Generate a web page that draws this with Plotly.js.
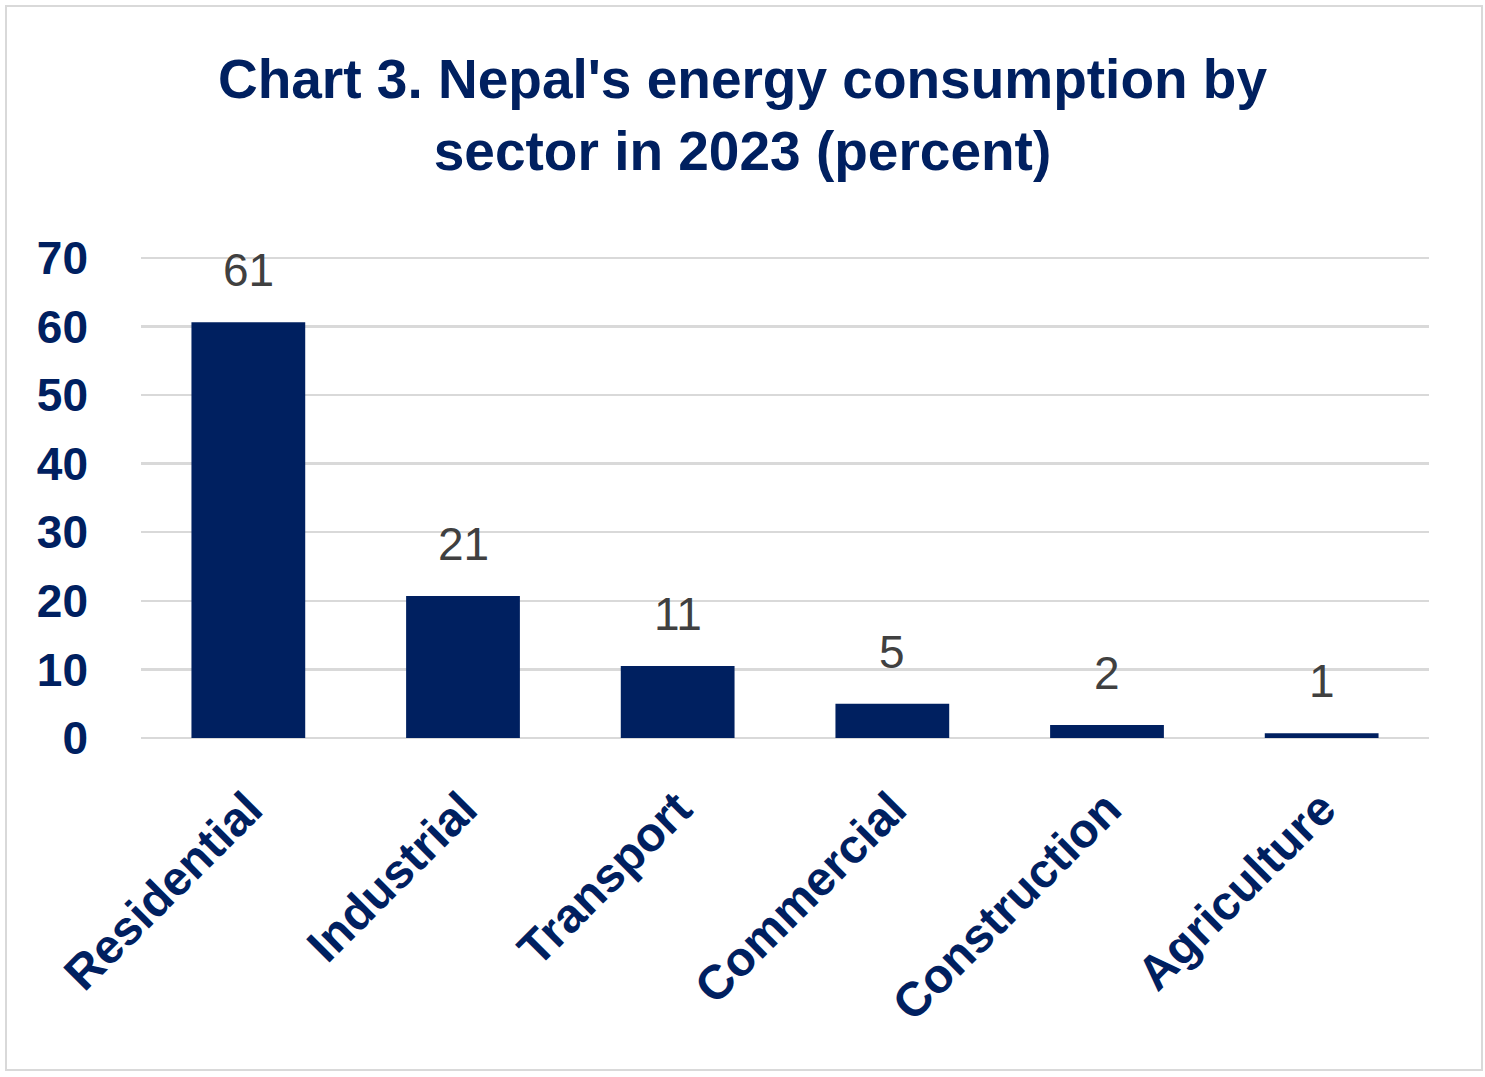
<!DOCTYPE html>
<html>
<head>
<meta charset="utf-8">
<script src="https://cdn.plot.ly/plotly-3.0.1.min.js"></script>
<style>
html,body{margin:0;padding:0;background:#fff;}
#wrap{position:relative;width:1485px;height:1077px;}
#chart{position:absolute;left:0;top:0;width:1485px;height:1077px;}
#frame{position:absolute;left:5px;top:5px;width:1474px;height:1062px;border:2px solid #d9d9d9;pointer-events:none;}
</style>
</head>
<body>
<div id="wrap"><div id="chart"></div><div id="frame"></div></div>
<script>
const sectors = ["Residential", "Industrial", "Transport", "Commercial", "Construction", "Agriculture"];
const shares = [60.6, 20.7, 10.5, 5.0, 1.9, 0.7];
const shareLabels = ["61", "21", "11", "5", "2", "1"];
const yTicks = [0, 10, 20, 30, 40, 50, 60, 70];

const navy = "#002060";

const annotations = sectors.map((s, i) => ({
  x: s, y: shares[i], xref: "x", yref: "y",
  text: shareLabels[i], showarrow: false,
  yanchor: "middle", yshift: 52,
  font: {family: "Liberation Sans, Arial, sans-serif", size: 46, color: "#404040"}
}));

const trace = {
  type: "bar",
  x: sectors,
  y: shares,
  marker: {color: navy},
  hoverinfo: "x+y"
};

const layout = {
  width: 1485, height: 1077,
  paper_bgcolor: "#ffffff", plot_bgcolor: "#ffffff",
  margin: {l: 141, r: 56, t: 251, b: 339},
  title: {
    text: "Chart 3. Nepal's energy consumption by<br>sector in 2023 (percent)",
    font: {family: "Liberation Sans, Arial, sans-serif", size: 55, color: navy, weight: "bold"},
    x: 0.5, xref: "container", xanchor: "center",
    y: 0.909, yref: "container", yanchor: "top"
  },
  bargap: 0.47,
  showlegend: false,
  xaxis: {
    type: "category",
    tickangle: -45,
    tickfont: {family: "Liberation Sans, Arial, sans-serif", size: 48, color: navy, weight: "bold"},
    showgrid: false, showline: false, ticks: "", zeroline: false,
    ticklabelstandoff: 32
  },
  yaxis: {
    range: [0, 71],
    tickvals: yTicks,
    ticktext: yTicks.map(String),
    tickfont: {family: "Liberation Sans, Arial, sans-serif", size: 46, color: navy, weight: "bold"},
    showgrid: true, gridcolor: "#d9d9d9", gridwidth: 2.5,
    zeroline: true, zerolinecolor: "#d9d9d9", zerolinewidth: 2.5,
    showline: false, ticks: "", ticklabelstandoff: 52
  },
  annotations: annotations
};

Plotly.newPlot("chart", [trace], layout, {displayModeBar: false, staticPlot: true});
</script>
</body>
</html>
